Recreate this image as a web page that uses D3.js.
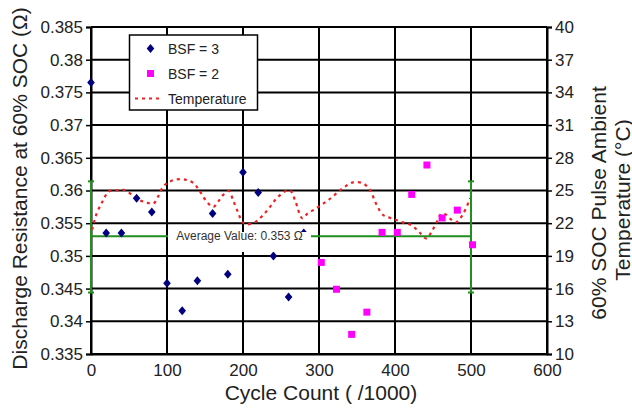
<!DOCTYPE html>
<html>
<head>
<meta charset="utf-8">
<script src="https://cdn.jsdelivr.net/npm/d3@7"></script>
<style>
  html, body { margin: 0; padding: 0; background: #fff; }
  svg { display: block; font-family: "Liberation Sans", Arial, Helvetica, sans-serif; }
</style>
</head>
<body>
<svg id="chart" width="632" height="410"></svg>
<script>
// ---- Data ----
const bsf3Cycles = [0, 20, 40, 60, 80, 100, 120, 140, 160, 180, 200, 220, 240, 260, 280];
const bsf3Values = [0.3765, 0.3535, 0.3535, 0.3588, 0.3567, 0.3458, 0.3416, 0.3462, 0.3565, 0.3472, 0.3628, 0.3597, 0.3500, 0.3437, 0.3535];

const bsf2Cycles = [303, 323, 343, 363, 383, 403, 422, 442, 462, 482, 502];
const bsf2Values = [0.3490, 0.3449, 0.3380, 0.3414, 0.3536, 0.3536, 0.3594, 0.3639, 0.3558, 0.3570, 0.3517];

const tempCycles = [1.5, 7.5, 16, 23, 32, 44, 54, 64.5, 73, 82, 88, 95, 102, 110.5, 123.5, 134.5, 143.5, 152, 161, 167.5, 174, 181.5, 187, 194, 199, 205, 216, 226.5, 235.5, 244.5, 255, 262, 268.5, 278, 285, 292.5, 303.5, 312, 323, 334, 345, 358, 367, 375, 384.5, 395.5, 409, 422, 433, 441.5, 448, 455, 461.5, 468, 474.5, 481, 490, 499];
const tempValues = [21.4, 22.9, 24.1, 24.9, 25.0, 25.05, 24.6, 24.1, 23.9, 23.8, 24.4, 25.35, 25.75, 26.0, 26.0, 25.7, 24.9, 24.0, 23.5, 24.0, 24.6, 24.95, 24.1, 22.9, 22.1, 21.9, 22.1, 22.75, 23.5, 24.3, 24.9, 25.0, 24.1, 22.45, 22.9, 23.2, 23.7, 24.1, 24.75, 25.35, 25.75, 25.65, 25.05, 23.8, 22.75, 22.45, 22.1, 21.8, 21.1, 20.6, 21.2, 22.1, 22.9, 22.75, 22.3, 22.1, 22.9, 24.3];

const averageValue = 0.353;
const averageLow = 0.3444;
const averageHigh = 0.3614;
const averageStart = 0;
const averageEnd = 500;

const xTicks = [0, 100, 200, 300, 400, 500, 600];
const yTicks = [0.335, 0.34, 0.345, 0.35, 0.355, 0.36, 0.365, 0.37, 0.375, 0.38, 0.385];
const yTickLabels = ["0.335", "0.34", "0.345", "0.35", "0.355", "0.36", "0.365", "0.37", "0.375", "0.38", "0.385"];
const y2Ticks = [10, 13, 16, 19, 22, 25, 28, 31, 34, 37, 40];

const legendLabels = ["BSF = 3", "BSF = 2", "Temperature"];
const averageLabel = "Average Value: 0.353 \u03A9";

// ---- Layout ----
const svg = d3.select("#chart");
const L = 91, R = 547, T = 27, B = 354;

const x = d3.scaleLinear().domain([0, 600]).range([L, R]);
const y = d3.scaleLinear().domain([0.335, 0.385]).range([B, T]);
const y2 = d3.scaleLinear().domain([10, 40]).range([B, T]);

const navy = "#000080", magenta = "#ff00ff", red = "#ee2222", green = "#1f8f1f";

// Grid
const grid = svg.append("g");
grid.selectAll("line.h").data(yTicks).join("line")
  .attr("x1", L).attr("x2", R)
  .attr("y1", d => y(d)).attr("y2", d => y(d))
  .attr("stroke", "#000").attr("stroke-width", 2);
grid.selectAll("line.v").data(xTicks).join("line")
  .attr("y1", T).attr("y2", B)
  .attr("x1", d => x(d)).attr("x2", d => x(d))
  .attr("stroke", "#000").attr("stroke-width", 2);

// Axes
const fs = 17;
const yAxis = d3.axisLeft(y).tickValues(yTicks).tickFormat((d, i) => yTickLabels[i]).tickSize(5).tickPadding(3);
const gy = svg.append("g").attr("transform", `translate(${L},0)`).call(yAxis);
const y2Axis = d3.axisRight(y2).tickValues(y2Ticks).tickSize(5).tickPadding(3);
const gy2 = svg.append("g").attr("transform", `translate(${R},0)`).call(y2Axis);
const xAxis = d3.axisBottom(x).tickValues(xTicks).tickSize(0).tickPadding(10);
const gx = svg.append("g").attr("transform", `translate(0,${B})`).call(xAxis);
[gy, gy2, gx].forEach(g => {
  g.selectAll("path.domain").attr("stroke", "#000").attr("stroke-width", 2);
  g.selectAll(".tick line").attr("stroke", "#000").attr("stroke-width", 1.5);
  g.selectAll("text").attr("font-size", fs).attr("fill", "#222")
    .attr("font-family", "'Liberation Sans', Arial, sans-serif");
});

// Temperature line
const line = d3.line()
  .x((d, i) => x(tempCycles[i]))
  .y(d => y2(d))
  .curve(d3.curveCatmullRom.alpha(0.5));
svg.append("path").datum(tempValues)
  .attr("d", line)
  .attr("fill", "none").attr("stroke", red)
  .attr("stroke-width", 2.2).attr("stroke-dasharray", "3,4");

// Average line + error bars
const avg = svg.append("g").attr("stroke", green).attr("stroke-width", 2).attr("fill", "none");
avg.append("line").attr("x1", x(averageStart)).attr("x2", x(averageEnd))
  .attr("y1", y(averageValue)).attr("y2", y(averageValue));
[averageStart, averageEnd].forEach(c => {
  avg.append("line").attr("x1", x(c)).attr("x2", x(c)).attr("y1", y(averageLow)).attr("y2", y(averageHigh));
  avg.append("line").attr("x1", x(c) - 3).attr("x2", x(c) + 3).attr("y1", y(averageLow)).attr("y2", y(averageLow));
  avg.append("line").attr("x1", x(c) - 3).attr("x2", x(c) + 3).attr("y1", y(averageHigh)).attr("y2", y(averageHigh));
});

// Points
const diamond = (cx, cy) => `M${cx},${cy - 4.5}L${cx + 3.8},${cy}L${cx},${cy + 4.5}L${cx - 3.8},${cy}Z`;
svg.append("g").selectAll("path").data(bsf3Values).join("path")
  .attr("d", (d, i) => diamond(x(bsf3Cycles[i]), y(d)))
  .attr("fill", navy);
svg.append("g").selectAll("rect").data(bsf2Values).join("rect")
  .attr("x", (d, i) => x(bsf2Cycles[i]) - 3.5).attr("y", d => y(d) - 3.5)
  .attr("width", 7).attr("height", 7).attr("fill", magenta);

// Average label
svg.append("rect").attr("x", 168).attr("y", 232).attr("width", 143).attr("height", 20).attr("fill", "#fff");
svg.append("text").attr("x", 239.5).attr("y", y(averageValue) + 4)
  .attr("text-anchor", "middle").attr("font-size", 12).attr("fill", "#333")
  .text(averageLabel);

// Legend
const lg = svg.append("g");
lg.append("rect").attr("x", 129.5).attr("y", 35).attr("width", 128).attr("height", 75)
  .attr("fill", "#fff").attr("stroke", "#000").attr("stroke-width", 1.5);
lg.append("path").attr("d", diamond(150.5, 48.5)).attr("fill", navy);
lg.append("rect").attr("x", 147).attr("y", 70).attr("width", 7).attr("height", 7).attr("fill", magenta);
lg.append("line").attr("x1", 135).attr("x2", 161).attr("y1", 98.5).attr("y2", 98.5)
  .attr("stroke", red).attr("stroke-width", 2.2).attr("stroke-dasharray", "3,4");
lg.selectAll("text").data(legendLabels).join("text")
  .attr("x", 168).attr("y", (d, i) => [53.5, 78.5, 103.5][i])
  .attr("font-size", 14).attr("fill", "#222").text(d => d);

// Axis titles
svg.append("text").attr("transform", "translate(19,188.5) rotate(-90)")
  .attr("text-anchor", "middle").attr("dominant-baseline", "central")
  .attr("font-size", 21).attr("fill", "#222")
  .text("Discharge Resistance at 60% SOC (\u03A9)");
svg.append("text").attr("transform", "translate(598,203) rotate(-90)")
  .attr("text-anchor", "middle").attr("dominant-baseline", "central")
  .attr("font-size", 21).attr("fill", "#222")
  .text("60% SOC Pulse Ambient");
svg.append("text").attr("transform", "translate(622,200) rotate(-90)")
  .attr("text-anchor", "middle").attr("dominant-baseline", "central")
  .attr("font-size", 21).attr("fill", "#222")
  .text("Temperature (\u00B0C)");
svg.append("text").attr("x", 321).attr("y", 400)
  .attr("text-anchor", "middle").attr("font-size", 21).attr("fill", "#222")
  .text("Cycle Count ( /1000)");
</script>
</body>
</html>
